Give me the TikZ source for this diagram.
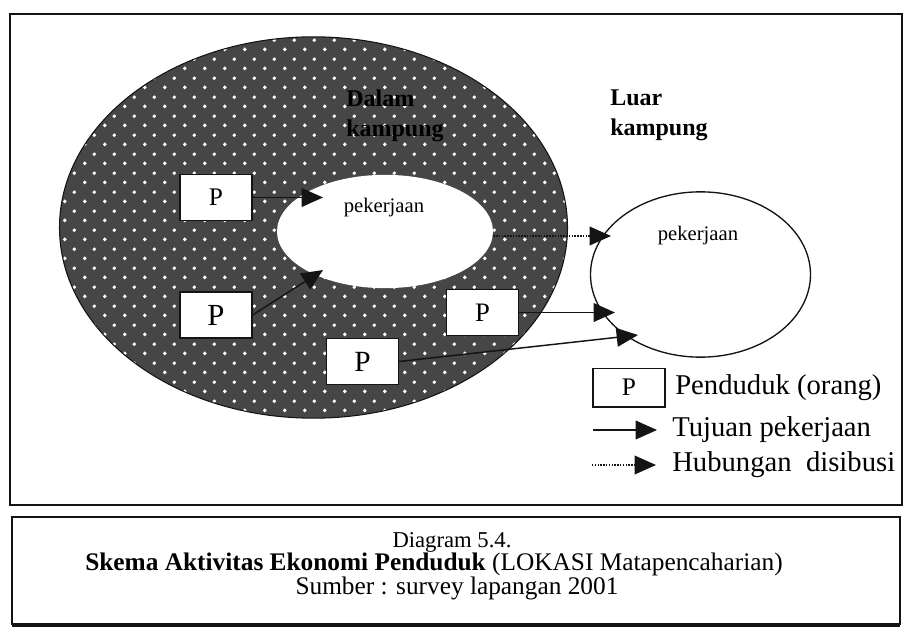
\documentclass[tikz,border=0pt]{standalone}
\usepackage{fontspec}
\setmainfont{Liberation Serif}
\usepackage{tikz}
\usetikzlibrary{shapes.geometric, arrows.meta, patterns.meta}
\definecolor{mydark}{RGB}{20,20,20}
\definecolor{myshade}{RGB}{70,70,70}
\tikzdeclarepattern{
  name=kampungdots,
  type=uncolored,
  bounding box={(0pt,0pt) and (15pt,14pt)},
  tile size={(15pt,14pt)},
  code={
    \fill (3.75pt,3.5pt) circle (1.5pt);
    \fill (11.25pt,10.5pt) circle (1.5pt);
  }
}
\tikzset{
  pbox/.style={rectangle, draw=mydark, fill=white, minimum width=54pt,
    minimum height=34.5pt, inner sep=0pt, line width=1pt},
  zone/.style={ellipse, inner sep=0pt},
  worktext/.style={font=\fontsize{15.5}{18}\selectfont, inner sep=0pt},
  areatext/.style={font=\bfseries\fontsize{18}{22.5}\selectfont,
    align=left, anchor=north west, inner sep=0pt},
  legtext/.style={font=\fontsize{21.5}{26}\selectfont, anchor=west, inner sep=0pt},
  captext/.style={font=\fontsize{19}{23}\selectfont, inner sep=0pt,
    text height=12pt, text depth=2pt},
  arrow/.style={-{Triangle[length=16pt,width=14pt]}, line width=1.1pt, color=mydark},
  dotarrow/.style={arrow, densely dotted}
}

\begin{document}
\begin{tikzpicture}[x=0.75pt, y=-0.75pt]
  \useasboundingbox (0,0) rectangle (904,639);

  % Frames
  \draw[line width=1.3pt, color=mydark] (10,14) rectangle (902,505);
  \draw[line width=1.1pt, color=mydark] (12,517) rectangle (900,624);
  \draw[line width=2.6pt, color=mydark] (12,625) -- (900,625);

  % Kampung rings
  \node[zone, minimum width=381pt, minimum height=286pt, draw=mydark, line width=0.8pt,
    pattern=kampungdots, pattern color=white, preaction={fill=myshade}]
    (dalam) at (313.5,227.5) {};
  \node[zone, minimum width=162pt, minimum height=85pt, fill=white] (kerjadalam) at (385,231.5) {};
  \node[zone, minimum width=165pt, minimum height=124pt, draw=mydark, line width=1pt, fill=white]
    (kerjaluar) at (700.5,274.5) {};

  \node[worktext] (lbldalam) at (384,208) {pekerjaan};
  \node[worktext] (lblluar) at (698,236) {pekerjaan};
  \node[areatext] (dalamtxt) at (346,90) {Dalam\\kampung};
  \node[areatext] (luartxt) at (610,90) {Luar\\kampung};

  % Arrow tips
  \coordinate (t1) at (323,197.5);
  \coordinate (t2) at (323,270);
  \coordinate (t3) at (611,236);
  \coordinate (t4) at (615,312.5);
  \coordinate (t5) at (638,335);

  % Penduduk
  \node[pbox, font=\fontsize{19}{22}\selectfont] (p1) at (216,197.5) {P};
  \node[pbox, font=\fontsize{23}{26}\selectfont] (p2) at (216,315) {P};
  \node[pbox, font=\fontsize{20}{24}\selectfont] (p3) at (482.5,312.5) {P};
  \node[pbox, font=\fontsize{22}{26}\selectfont] (p4) at (362.5,361.5) {P};

  \draw[arrow] (p1.east) -- (t1);
  \draw[arrow] (p2.east) -- (t2);
  \draw[dotarrow] (kerjadalam.east |- t3) -- (t3);
  \draw[arrow] (p3.east) -- (t4);
  \draw[arrow] (p4.east) -- (t5);

  % Legend
  \node[pbox, minimum height=29pt, font=\fontsize{19}{22}\selectfont] (legp) at (629,387.5) {P};
  \node[legtext] (legptxt) at (675,388) {Penduduk (orang)};
  \coordinate (la1) at (593,430);
  \coordinate (la2) at (657,430);
  \coordinate (lb1) at (592,465);
  \coordinate (lb2) at (656,465);
  \draw[arrow] (la1) -- (la2);
  \draw[dotarrow] (lb1) -- (lb2);
  \node[legtext] (legatxt) at (672,430) {Tujuan pekerjaan};
  \node[legtext] (legbtxt) at (672,465) {Hubungan\ \ disibusi};

  % Caption
  \node[captext, font=\fontsize{17}{20}\selectfont] (capa) at (452,541) {Diagram 5.4.};
  \node[captext] (capb) at (434,564) {\textbf{Skema Aktivitas Ekonomi Penduduk} (LOKASI Matapencaharian)};
  \node[captext] (capc) at (457,588) {Sumber : survey lapangan 2001};
\end{tikzpicture}
\end{document}
